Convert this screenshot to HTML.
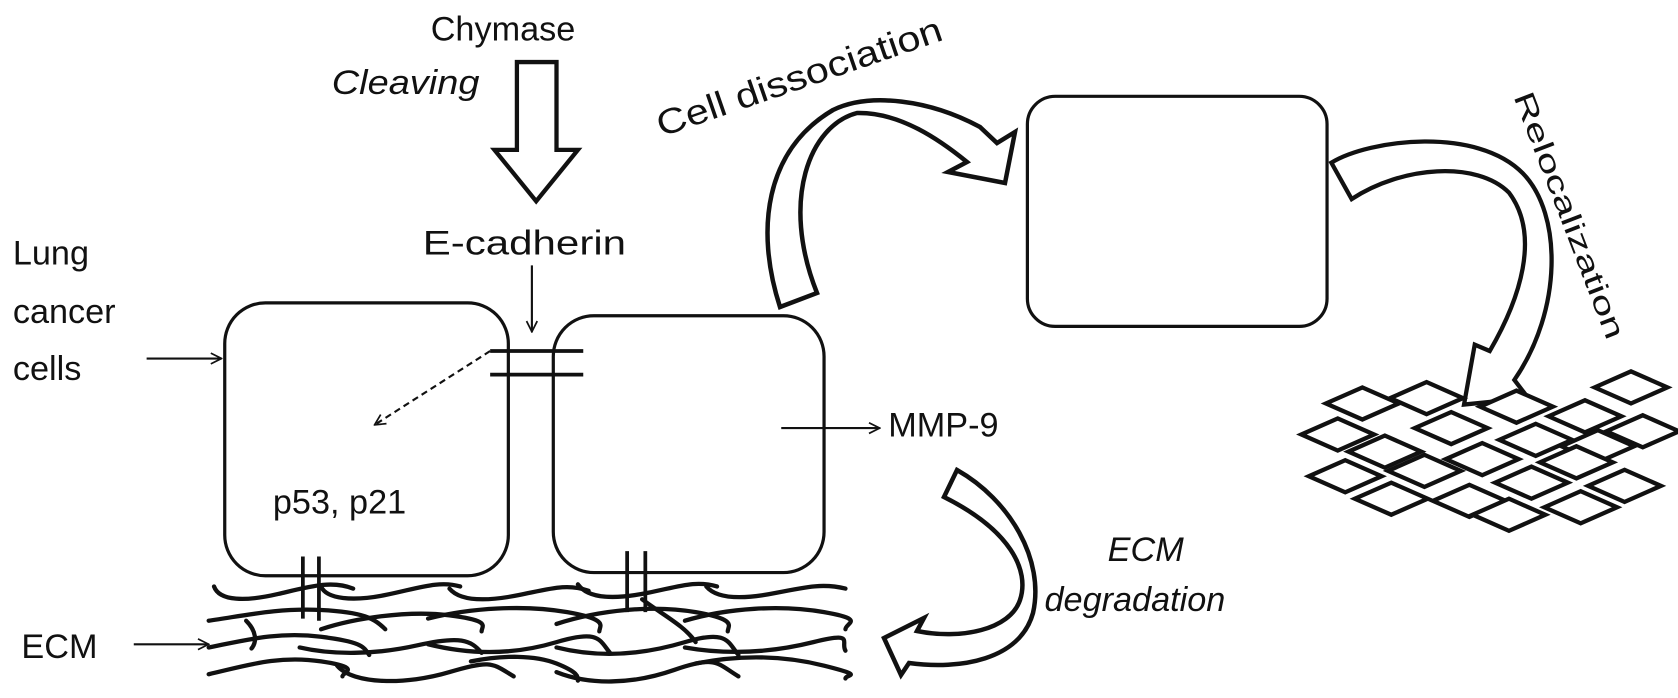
<!DOCTYPE html>
<html><head><meta charset="utf-8"><style>
html,body{margin:0;padding:0;background:#fff;}
svg{display:block;}
text{font-family:"Liberation Sans",Arial,sans-serif;fill:#111;}
</style></head><body>
<svg width="1678" height="698" viewBox="0 0 1678 698" xmlns="http://www.w3.org/2000/svg">
<defs>
<marker id="ah" viewBox="0 0 12 12" refX="11" refY="6" markerWidth="12" markerHeight="12" markerUnits="userSpaceOnUse" orient="auto">
<path d="M1,1 L11,6 L1,11" fill="none" stroke="#111" stroke-width="1.6"/>
</marker>
</defs>
<g transform="scale(1.0702)">
<text x="470" y="38" font-size="32" text-anchor="middle">Chymase</text>
<text x="310" y="88" font-size="32" font-style="italic" textLength="138" lengthAdjust="spacingAndGlyphs">Cleaving</text>
<path d="M483,58 L520,58 L520,140 L540,140 L501,188 L462,140 L483,140 Z" fill="#fff" stroke="#111" stroke-width="4" stroke-linejoin="miter"/>
<text x="490" y="238" font-size="32" text-anchor="middle" textLength="190" lengthAdjust="spacingAndGlyphs">E-cadherin</text>
<line x1="497" y1="248" x2="497" y2="310" stroke="#111" stroke-width="2" marker-end="url(#ah)"/>

<rect x="210" y="283" width="265" height="255" rx="38" fill="none" stroke="#111" stroke-width="3"/>
<rect x="517" y="295" width="253" height="240" rx="38" fill="none" stroke="#111" stroke-width="3"/>
<rect x="960" y="90" width="280" height="215" rx="26" fill="none" stroke="#111" stroke-width="3"/>

<line x1="458" y1="328" x2="545" y2="328" stroke="#111" stroke-width="3.5"/>
<line x1="458" y1="350" x2="545" y2="350" stroke="#111" stroke-width="3.5"/>
<line x1="458" y1="328" x2="350" y2="397" stroke="#111" stroke-width="2" stroke-dasharray="6,4" marker-end="url(#ah)"/>

<text x="12" y="247" font-size="32">Lung</text>
<text x="12" y="302" font-size="32">cancer</text>
<text x="12" y="355" font-size="32">cells</text>
<line x1="137" y1="335" x2="207" y2="335" stroke="#111" stroke-width="2" marker-end="url(#ah)"/>

<text x="830" y="408" font-size="32">MMP-9</text>
<line x1="730" y1="400" x2="822" y2="400" stroke="#111" stroke-width="2" marker-end="url(#ah)"/>

<text x="255" y="480" font-size="32">p53, p21</text>

<text x="20" y="615" font-size="32">ECM</text>
<line x1="125" y1="602" x2="195" y2="602" stroke="#111" stroke-width="2" marker-end="url(#ah)"/>

<text x="1035" y="524" font-size="32" font-style="italic">ECM</text>
<text x="976" y="571" font-size="32" font-style="italic">degradation</text>

<text transform="translate(618,128) rotate(-19)" font-size="33" textLength="280" lengthAdjust="spacingAndGlyphs">Cell dissociation</text>
<text transform="translate(1414,90) rotate(69)" font-size="27" textLength="245" lengthAdjust="spacingAndGlyphs">Relocalization</text>

<g fill="none" stroke="#111" stroke-width="4" stroke-linecap="round">
<path d="M200,548 C205,562 230,562 260,555 S310,542 330,550"/>
<path d="M300,548 C305,560 330,562 360,556 S410,542 430,548"/>
<path d="M420,550 C430,562 455,562 485,556 S530,545 550,552"/>
<path d="M540,546 C550,560 575,560 605,554 S650,542 670,548"/>
<path d="M660,548 C670,560 695,560 725,554 S770,545 790,550"/>
<path d="M195,580 C230,575 260,568 300,570 S350,578 360,588"/>
<path d="M300,588 C330,578 380,570 420,575 S450,585 450,590"/>
<path d="M400,578 C440,568 490,565 530,572 S560,585 560,590"/>
<path d="M520,583 C560,570 610,565 650,572 S680,585 680,590"/>
<path d="M640,580 C680,568 730,565 770,572 S790,582 790,588"/>
<path d="M195,605 C230,598 260,590 300,595 S340,605 345,612"/>
<path d="M280,605 C310,612 350,612 390,603 S440,598 450,610"/>
<path d="M400,602 C440,612 480,612 520,600 S560,598 570,610"/>
<path d="M520,605 C560,615 600,612 640,600 S680,600 690,612"/>
<path d="M640,605 C680,612 720,610 760,600 S785,600 790,608"/>
<path d="M195,630 C230,622 260,612 300,618 S320,628 320,632"/>
<path d="M315,622 C330,640 380,640 420,628 S460,620 480,632"/>
<path d="M440,618 C470,612 500,612 520,620 S540,632 540,636"/>
<path d="M520,628 C550,640 590,640 630,626 S670,620 690,632"/>
<path d="M650,620 C690,612 730,612 770,622 S790,630 790,634"/>
<path d="M230,580 C240,590 240,600 235,606"/>
<path d="M600,560 C620,575 640,585 650,600"/>
</g>
<g stroke="#111" stroke-width="3.5">
<line x1="283" y1="520" x2="283" y2="578"/>
<line x1="298" y1="520" x2="298" y2="580"/>
<line x1="586" y1="515" x2="586" y2="572"/>
<line x1="603" y1="515" x2="603" y2="572"/>
</g>

<path d="M1244,152 C1280,130 1380,118 1423,162 C1460,200 1460,290 1415,355 L1428,372 L1368,378 L1378,322 L1392,328 C1420,280 1440,220 1410,180 C1380,150 1310,155 1263,186 Z" fill="#fff" stroke="#111" stroke-width="4" stroke-linejoin="miter"/>

<g fill="#fff" stroke="#111" stroke-width="4">
<polygon points="1239,377 1273,362 1307,377 1273,392"/>
<polygon points="1299,372 1333,357 1367,372 1333,387"/>
<polygon points="1383,380 1417,365 1451,380 1417,395"/>
<polygon points="1490,362 1524,347 1558,362 1524,377"/>
<polygon points="1447,389 1481,374 1515,389 1481,404"/>
<polygon points="1216,406 1250,391 1284,406 1250,421"/>
<polygon points="1322,400 1356,385 1390,400 1356,415"/>
<polygon points="1401,411 1435,396 1469,411 1435,426"/>
<polygon points="1501,403 1535,388 1569,403 1535,418"/>
<polygon points="1260,422 1294,407 1328,422 1294,437"/>
<polygon points="1351,429 1385,414 1419,429 1385,444"/>
<polygon points="1459,417 1493,402 1527,417 1493,432"/>
<polygon points="1439,432 1473,417 1507,432 1473,447"/>
<polygon points="1223,445 1257,430 1291,445 1257,460"/>
<polygon points="1297,440 1331,425 1365,440 1331,455"/>
<polygon points="1397,451 1431,436 1465,451 1431,466"/>
<polygon points="1484,454 1518,439 1552,454 1518,469"/>
<polygon points="1266,466 1300,451 1334,466 1300,481"/>
<polygon points="1339,468 1373,453 1407,468 1373,483"/>
<polygon points="1376,481 1410,466 1444,481 1410,496"/>
<polygon points="1443,474 1477,459 1511,474 1477,489"/>
</g>
</g>

<path d="M780,307 C755,230 765,150 833,110 C870,92 930,100 980,127 L997,143 L1015,132 L1005,183 L948,172 L967,162 C940,140 900,112 857,113 C810,125 780,200 817,293 Z" fill="#fff" stroke="#111" stroke-width="4.5" stroke-linejoin="miter"/>
<path d="M957,470 C1010,500 1045,560 1033,613 C1020,660 960,670 909,663 L901,675 L884,638 L924,618 L917,631 C960,640 1010,630 1020,600 C1030,570 1010,530 944,497 Z" fill="#fff" stroke="#111" stroke-width="4.5" stroke-linejoin="miter"/>
</svg>
</body></html>
